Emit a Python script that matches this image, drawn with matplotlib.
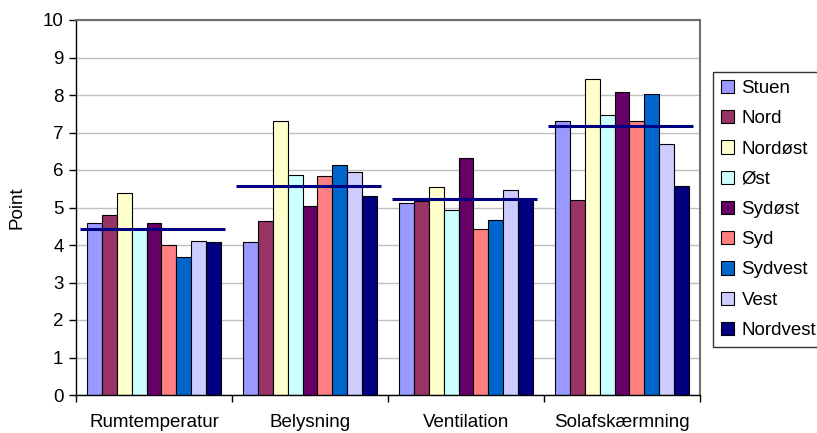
import numpy as np
import matplotlib
matplotlib.use("Agg")
import matplotlib.pyplot as plt

plt.rcParams['font.family'] = ['Liberation Sans', 'DejaVu Sans']

# Data
categories = ['Rumtemperatur', 'Belysning', 'Ventilation', 'Solafskærmning']
series = ['Stuen', 'Nord', 'Nordøst', 'Øst', 'Sydøst', 'Syd', 'Sydvest', 'Vest', 'Nordvest']
stuen = [4.58, 4.08, 5.11, 7.32]
nord = [4.80, 4.65, 5.17, 5.21]
nordoest = [5.40, 7.32, 5.56, 8.42]
oest = [4.42, 5.87, 4.94, 7.46]
sydoest = [4.58, 5.04, 6.33, 8.09]
syd = [4.01, 5.83, 4.42, 7.32]
sydvest = [3.68, 6.13, 4.66, 8.03]
vest = [4.12, 5.94, 5.47, 6.69]
nordvest = [4.08, 5.31, 5.24, 5.57]
gennemsnit = [4.42, 5.58, 5.24, 7.17]

values = [stuen, nord, nordoest, oest, sydoest, syd, sydvest, vest, nordvest]
colors = ['#9999FF', '#993366', '#FFFFCC', '#CCFFFF', '#660066',
          '#FF8080', '#0066CC', '#CCCCFF', '#000080']

fig = plt.figure(figsize=(8.17, 4.33), dpi=100)
ax = fig.add_axes([76 / 817, 1 - 395 / 433, (700 - 76) / 817, (395 - 20) / 433])

x = np.arange(len(categories))
w = 0.0955
for j, (name, vals, c) in enumerate(zip(series, values, colors)):
    ax.bar(x + (j - 4) * w, vals, width=w, color=c, edgecolor='black',
           linewidth=0.8, label=name, zorder=2)

# average line per group
ax.hlines(gennemsnit, x - 0.475, x + 0.455, colors='#000080', linewidth=2.2, zorder=3)

ax.set_xlim(-0.5, 3.5)
ax.set_ylim(0, 10)
ax.set_yticks(range(0, 11))
ax.yaxis.grid(True, color='#C0C0C0', linewidth=1, zorder=0)
ax.set_axisbelow(True)

ax.set_xticks(x)
ax.set_xticklabels(categories, fontsize=13.5)
ax.set_xticks(np.arange(-0.5, 4.0, 1.0), minor=True)
ax.tick_params(axis='x', which='major', length=0, pad=14)
ax.tick_params(axis='x', which='minor', length=5, direction='out', width=1)
ax.tick_params(axis='y', length=5, direction='out', width=1, labelsize=13.5, pad=4)

ax.set_ylabel('Point', fontsize=13.5, labelpad=12)

for s in ['left', 'bottom']:
    ax.spines[s].set_color('black')
    ax.spines[s].set_linewidth(1)
for s in ['top', 'right']:
    ax.spines[s].set_color('#707070')
    ax.spines[s].set_linewidth(1.5)

leg = fig.legend(loc='upper left', bbox_to_anchor=(713 / 817, 1 - 72 / 433),
                 bbox_transform=fig.transFigure, fontsize=13.5, frameon=True,
                 fancybox=False, edgecolor='black', borderaxespad=0,
                 handlelength=0.7, handleheight=0.7, handletextpad=0.4,
                 labelspacing=0.7, borderpad=0.42)
leg.get_frame().set_linewidth(1)

fig.savefig('out.png', dpi=100)
